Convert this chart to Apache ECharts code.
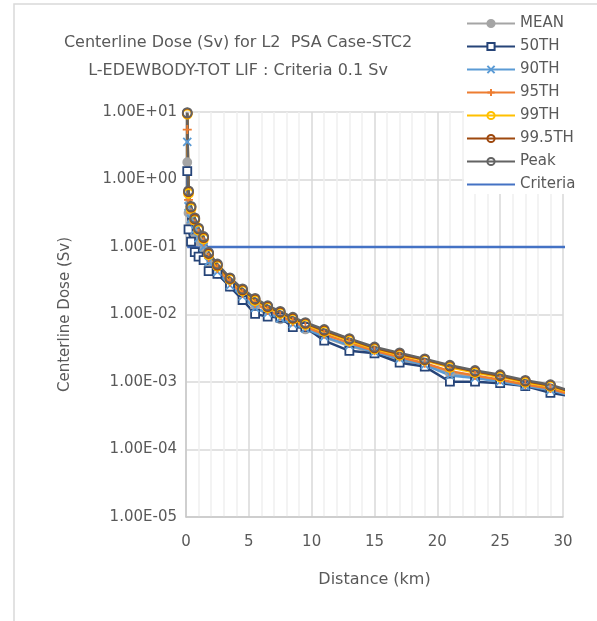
<!DOCTYPE html>
<html>
<head>
<meta charset="utf-8">
<script src="https://cdn.jsdelivr.net/npm/echarts@6/dist/echarts.min.js"></script>
<style>
  html, body { margin: 0; padding: 0; background: #fff; }
  #chart { width: 597px; height: 621px; }
</style>
</head>
<body>
<div id="chart"></div>
<script>
// distance from release point (km)
var distances = [0.1, 0.2, 0.4, 0.7, 1.0, 1.4, 1.8, 2.5, 3.5, 4.5, 5.5, 6.5, 7.5, 8.5, 9.5,
  11, 13, 15, 17, 19, 21, 23, 25, 27, 29, 31]

// centerline dose (Sv)
var mean = [1.8, 0.32, 0.22, 0.16, 0.12, 0.09, 0.056, 0.040, 0.026, 0.018, 0.0125, 0.0102, 0.0085, 0.0070, 0.0060,
  0.0046, 0.0034, 0.0027, 0.0021, 0.0018, 0.00135, 0.00118, 0.00102, 0.00088, 0.00076, 0.0006]
var p50 = [1.33, 0.183, 0.12, 0.084, 0.072, 0.064, 0.044, 0.040, 0.0258, 0.0164, 0.0102, 0.0093, 0.0090, 0.0065, 0.0065,
  0.0041, 0.0029, 0.00266, 0.00193, 0.00169, 0.00101, 0.00101, 0.00096, 0.00087, 0.00069, 0.0006]
var p90 = [3.6, 0.40, 0.26, 0.18, 0.135, 0.10, 0.060, 0.043, 0.027, 0.0185, 0.0125, 0.0105, 0.0088, 0.0072, 0.0062,
  0.0047, 0.0035, 0.0028, 0.0022, 0.0018, 0.00125, 0.00115, 0.00102, 0.00088, 0.00076, 0.0006]
var p95 = [5.5, 0.50, 0.32, 0.22, 0.16, 0.12, 0.070, 0.048, 0.030, 0.0205, 0.0145, 0.0115, 0.0095, 0.0078, 0.0066,
  0.0051, 0.0038, 0.0029, 0.00235, 0.0019, 0.00145, 0.00125, 0.00108, 0.00092, 0.00080, 0.00062]
var p99 = [9.3, 0.62, 0.37, 0.25, 0.178, 0.132, 0.077, 0.052, 0.033, 0.0225, 0.0160, 0.0126, 0.0104, 0.0085, 0.0071,
  0.0056, 0.0041, 0.0031, 0.0025, 0.0021, 0.00165, 0.00138, 0.00119, 0.00099, 0.00086, 0.00066]
var p995 = [9.6, 0.66, 0.39, 0.26, 0.185, 0.138, 0.080, 0.054, 0.034, 0.0232, 0.0168, 0.0131, 0.0108, 0.0088, 0.0074,
  0.0058, 0.0043, 0.0032, 0.0026, 0.00215, 0.00172, 0.00144, 0.00124, 0.00103, 0.00089, 0.00068]
var peak = [9.8, 0.68, 0.40, 0.27, 0.19, 0.143, 0.083, 0.056, 0.035, 0.024, 0.0173, 0.0135, 0.0111, 0.0091, 0.0076,
  0.0060, 0.0044, 0.0033, 0.0027, 0.0022, 0.00177, 0.00148, 0.00128, 0.00106, 0.00091, 0.00070]
var criteria = 0.1

var textColor = '#595959'
var font = 'DejaVu Sans'

function pairs(vals) {
  return distances.map(function (d, i) { return [d, vals[i]] })
}

function makeSeries(name, vals, color, symbol, size, fill) {
  return {
    name: name,
    type: 'line',
    data: pairs(vals),
    symbol: symbol,
    symbolSize: size,
    showAllSymbol: true,
    lineStyle: { color: color, width: 2.5 },
    itemStyle: { color: fill, borderColor: color, borderWidth: 1.8 }
  }
}

var chart = echarts.init(document.getElementById('chart'))
chart.setOption({
  animation: false,
  textStyle: { fontFamily: font },
  graphic: [{
    type: 'rect',
    silent: true,
    z: -10,
    shape: { x: 14, y: 4, width: 800, height: 800 },
    style: { fill: 'none', stroke: '#d9d9d9', lineWidth: 1.5 }
  }],
  title: {
    text: 'Centerline Dose (Sv) for L2  PSA Case-STC2\nL-EDEWBODY-TOT LIF : Criteria 0.1 Sv',
    left: 233,
    top: 24,
    textAlign: 'center',
    textStyle: { fontFamily: font, fontSize: 16, fontWeight: 'normal', color: textColor, lineHeight: 28 }
  },
  legend: {
    orient: 'vertical',
    left: 464,
    top: 14,
    itemWidth: 48,
    itemHeight: 9,
    itemGap: 8,
    padding: [2, 6, 2, 2],
    backgroundColor: '#fff',
    textStyle: { fontFamily: font, fontSize: 15, color: textColor, lineHeight: 14 },
    data: ['MEAN', '50TH', '90TH', '95TH', '99TH', '99.5TH', 'Peak',
      { name: 'Criteria', itemStyle: { opacity: 0 } }]
  },
  grid: { left: 186, right: 34, top: 112, bottom: 104 },
  xAxis: {
    type: 'value',
    min: 0,
    max: 30,
    interval: 5,
    name: 'Distance (km)',
    nameLocation: 'middle',
    nameGap: 55,
    nameTextStyle: { fontFamily: font, fontSize: 16, color: textColor },
    axisLine: { lineStyle: { color: '#c8c8c8', width: 1.5 } },
    axisTick: { show: false },
    axisLabel: { fontFamily: font, fontSize: 15, color: textColor, margin: 18 },
    splitLine: { lineStyle: { color: '#d9d9d9', width: 1.5 } },
    minorTick: { show: false, splitNumber: 5 },
    minorSplitLine: { show: true, lineStyle: { color: '#efefef', width: 1.5 } }
  },
  yAxis: {
    type: 'log',
    logBase: 10,
    min: 1e-5,
    max: 10,
    interval: 1,
    name: 'Centerline Dose (Sv)',
    nameLocation: 'middle',
    nameGap: 113,
    nameTextStyle: { fontFamily: font, fontSize: 15, color: textColor },
    axisLine: { show: true, lineStyle: { color: '#c8c8c8', width: 1.5 } },
    axisTick: { show: false },
    axisLabel: {
      fontFamily: font,
      fontSize: 15,
      color: textColor,
      margin: 9,
      formatter: function (v) {
        var e = Math.round(Math.log10(v))
        var s = e < 0 ? '-' : '+'
        var a = Math.abs(e)
        return '1.00E' + s + (a < 10 ? '0' : '') + a
      }
    },
    splitLine: { lineStyle: { color: '#d9d9d9', width: 1.5 } }
  },
  series: [
    makeSeries('MEAN', mean, '#a5a5a5', 'circle', 8, '#a5a5a5'),
    makeSeries('50TH', p50, '#264478', 'rect', 8, '#fff'),
    makeSeries('90TH', p90, '#5b9bd5', 'path://M0,0L10,10M10,0L0,10', 8, 'none'),
    makeSeries('95TH', p95, '#ed7d31', 'path://M5,0L5,10M0,5L10,5', 9, 'none'),
    makeSeries('99TH', p99, '#ffc000', 'circle', 9, 'rgba(0,0,0,0)'),
    makeSeries('99.5TH', p995, '#9e480e', 'circle', 9, 'rgba(0,0,0,0)'),
    makeSeries('Peak', peak, '#636363', 'circle', 9, 'rgba(0,0,0,0)'),
    {
      name: 'Criteria',
      type: 'line',
      data: distances.map(function (d) { return [d, criteria] }),
      symbol: 'none',
      lineStyle: { color: '#4472c4', width: 2.5 },
      itemStyle: { color: '#4472c4' }
    }
  ]
})
</script>
</body>
</html>
